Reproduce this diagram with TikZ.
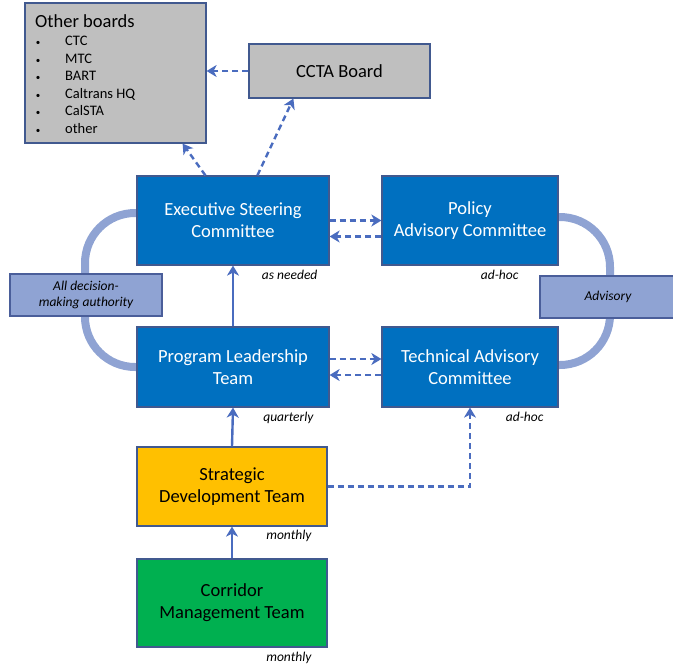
\documentclass[tikz,border=0pt]{standalone}
\usepackage{fontspec}
\setmainfont{Carlito}
\usetikzlibrary{arrows.meta, positioning, calc}
\definecolor{boxBlue}{HTML}{0070C0}
\definecolor{boxEdge}{HTML}{41598F}
\definecolor{boardGray}{HTML}{BFBFBF}
\definecolor{devYellow}{HTML}{FFC000}
\definecolor{corrGreen}{HTML}{00B050}
\definecolor{linkBlue}{HTML}{4A6CBF}
\definecolor{bandFill}{HTML}{8FA3D3}
\definecolor{bandEdge}{HTML}{4A5E9A}

\begin{document}
\begin{tikzpicture}[x=1pt, y=-1pt,
    unit/.style={draw=boxEdge, line width=1.2pt, inner sep=0pt,
                 align=center, font=\fontsize{18.5}{22}\selectfont},
    committee/.style={unit, fill=boxBlue, text=white},
    board/.style={unit, fill=boardGray},
    tagbox/.style={draw=bandEdge, fill=bandFill, line width=1.2pt,
                   inner sep=0pt, align=center,
                   font=\fontsize{13.5}{16}\selectfont\itshape},
    freq/.style={anchor=north east, inner sep=0pt,
                 font=\fontsize{13.5}{15}\selectfont\itshape},
    band/.style={bandFill, line width=8pt, rounded corners=50pt},
    link/.style={linkBlue, line width=2.4pt,
                 -{Stealth[length=10pt, width=12pt, inset=3pt]}},
    dashlink/.style={link, dash pattern=on 6pt off 4pt}]

    \useasboundingbox (0,0) rectangle (673,667);

    % --- boards at the top
    \node[board, minimum width=181, minimum height=140] (other) at (115.5,73) {};
    \node[anchor=base west, inner sep=0pt, font=\fontsize{18.5}{22}\selectfont]
        (otherTitle) at (35,27) {Other boards};
    \foreach \item [count=\i] in {CTC, MTC, BART, Caltrans HQ, CalSTA, other} {
        \node[anchor=base, inner sep=0pt, font=\fontsize{9}{10}\selectfont]
            (bul\i) at (38,28+17.5*\i) {\textbullet};
        \node[anchor=base west, inner sep=0pt, font=\fontsize{14.5}{17}\selectfont]
            (item\i) at (65,28+17.5*\i) {\item};
    }
    \node[board, minimum width=181, minimum height=54] (ccta) at (339.5,71) {CCTA Board};

    % --- advisory bands (drawn before the boxes)
    \draw[band] (137,213) -- (85,213) -- (85,367) -- (137,367);
    \draw[band] (558,217) -- (610,217) -- (610,365) -- (558,365);

    % --- committees
    \node[committee, minimum width=192, minimum height=89] (esc) at (233,220.5)
        {Executive Steering\\Committee};
    \node[committee, minimum width=176, minimum height=89] (pac) at (470,220.5)
        {Policy\\Advisory Committee};
    \node[committee, minimum width=192, minimum height=80] (plt) at (233,367)
        {Program Leadership\\Team};
    \node[committee, minimum width=176, minimum height=80] (tac) at (470,367)
        {Technical Advisory\\Committee};
    \node[unit, fill=devYellow, minimum width=190, minimum height=79] (sdt) at (232,486.5)
        {Strategic\\Development Team};
    \node[unit, fill=corrGreen, minimum width=190, minimum height=88] (cmt) at (232,603)
        {Corridor\\Management Team};

    % --- band labels
    \node[tagbox, minimum width=152, minimum height=42] (authTag) at (86,295)
        {All decision-\\making authority};
    \node[tagbox, minimum width=136, minimum height=42] (advTag) at (608,297) {Advisory};

    % --- meeting frequency
    \node[freq] (escFreq) at ($(esc.south east)+(-12,4)$) {as needed};
    \node[freq] (pacFreq) at ($(pac.south east)+(-40,4)$) {ad-hoc};
    \node[freq] (pltFreq) at ($(plt.south east)+(-16,4)$) {quarterly};
    \node[freq] (tacFreq) at ($(tac.south east)+(-15,4)$) {ad-hoc};
    \node[freq] (sdtFreq) at ($(sdt.south east)+(-16,3)$) {monthly};
    \node[freq] (cmtFreq) at ($(cmt.south east)+(-16,4)$) {monthly};

    % --- reporting lines
    \draw[link] (plt.north) -- (esc.south);
    \draw[link] (sdt.north) -- (plt.south);
    \draw[link] (cmt.north) -- (sdt.south);

    % --- dashed links
    \draw[dashlink] (ccta.west) -- (ccta.west -| other.east);
    \draw[dashlink] ($(esc.north west)+(69,0)$) -- ($(other.south east)+(-24,0)$);
    \draw[dashlink] ($(esc.north west)+(121,0)$) -- ($(ccta.south west)+(45,0)$);
    \draw[dashlink] ($(esc.east)+(0,0)$) -- ($(pac.west)+(0,0)$);
    \draw[dashlink] ($(pac.west)+(0,16)$) -- ($(esc.east)+(0,16)$);
    \draw[dashlink] ($(plt.east)+(0,-8)$) -- ($(tac.west)+(0,-8)$);
    \draw[dashlink] ($(tac.west)+(0,8)$) -- ($(plt.east)+(0,8)$);
    \draw[dashlink] (sdt.east) -| (tac.south);

\end{tikzpicture}
\end{document}
